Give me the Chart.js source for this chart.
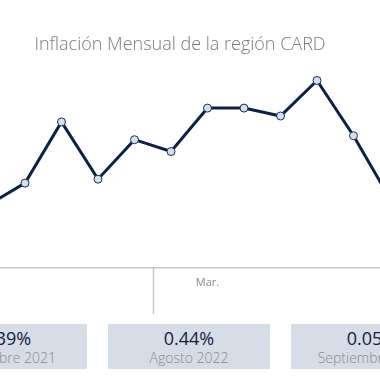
<html lang="es">
<head>
  <meta charset="utf-8">
  <title>Inflación Mensual de la región CARD</title>
  <script src="https://cdnjs.cloudflare.com/ajax/libs/Chart.js/4.4.1/chart.umd.min.js"></script>
  <style>
    body { margin: 0; width: 380px; height: 380px; overflow: hidden; position: relative; background: #fff; font-family: "Open Sans", sans-serif; }
    #wrap { position: absolute; left: -20px; top: 0; width: 400px; height: 320px; }
    .box { position: absolute; top: 324px; width: 162px; height: 45px; background: #d6dde7; text-align: center; }
    .box .v { font-size: 18px; color: #13233f; line-height: 20px; margin-top: 4px; }
    .box .l { font-size: 14px; color: #8a8a8a; line-height: 18px; margin-top: 1px; font-weight: 300; }
  </style>
</head>
<body>
<div id="wrap"><canvas id="line" width="400" height="320"></canvas></div>
<div class="box" style="left:-75px"><div class="v">0.39%</div><div class="l">Diciembre 2021</div></div>
<div class="box" style="left:108px"><div class="v">0.44%</div><div class="l">Agosto 2022</div></div>
<div class="box" style="left:291px"><div class="v">0.05%</div><div class="l">Septiembre 2022</div></div>

<script>
// meses (sep 2021 - ago 2022)
var meses = ["Sep.", "Oct.", "Nov.", "Dic.", "Ene.", "Feb.", "Mar.", "Abr.", "May.", "Jun.", "Jul.", "Ago."];
var inflacion = [0.32, 0.43, 0.74, 0.45, 0.65, 0.59, 0.81, 0.81, 0.77, 0.95, 0.67, 0.35];
var ticksMostrados = [6];
var separador = 4.5;

var puntos = [];
for (var i = 0; i < inflacion.length; i++) {
    puntos.push({x: i, y: inflacion[i]});
}

// linea vertical bajo el eje
var separadorPlugin = {
    id: 'separador',
    afterDraw: function(chart) {
        var c = chart.ctx;
        var x = Math.round(chart.scales.x.getPixelForValue(separador)) + 0.5;
        var y0 = chart.chartArea.bottom;
        c.save();
        c.strokeStyle = "#c6c6c6";
        c.lineWidth = 1.5;
        c.beginPath();
        c.moveTo(x, y0);
        c.lineTo(x, y0 + 46);
        c.stroke();
        c.restore();
    }
};

var ctx = document.getElementById("line").getContext('2d');
var chart = new Chart(ctx, {
    type: 'line',
    data: {
        datasets: [{
            label: "Inflación mensual",
            data: puntos,
            borderColor: "#0c2143",
            borderWidth: 3,
            tension: 0,
            pointRadius: 4,
            pointBackgroundColor: "#d6deec",
            pointBorderColor: "#1b2f52",
            pointBorderWidth: 1
        }]
    },
    plugins: [separadorPlugin],
    options: {
        responsive: false,
        animation: false,
        layout: { autoPadding: false, padding: 0 },
        plugins: {
            legend: { display: false },
            tooltip: { enabled: false },
            title: {
                display: true,
                text: "Inflación Mensual de la región CARD",
                color: "#7a7a7a",
                font: { family: "Open Sans", size: 18, weight: '300' },
                padding: { top: 34, bottom: 15 }
            }
        },
        scales: {
            x: {
                type: 'linear',
                min: -0.233,
                max: 10.726,
                afterBuildTicks: function(scale) {
                    scale.ticks = ticksMostrados.map(function(v) { return {value: v}; });
                },
                afterFit: function(scale) { scale.height = 52; },
                ticks: {
                    color: "#8a8a8a",
                    font: { family: "Open Sans", size: 11 },
                    padding: 8,
                    maxRotation: 0,
                    callback: function(v) { return meses[v]; }
                },
                grid: { display: false, drawTicks: false },
                border: { display: true, color: "#c6c6c6", width: 1.5 }
            },
            y: {
                display: false,
                min: 0,
                max: 1.0
            }
        }
    }
});
</script>
</body>
</html>
